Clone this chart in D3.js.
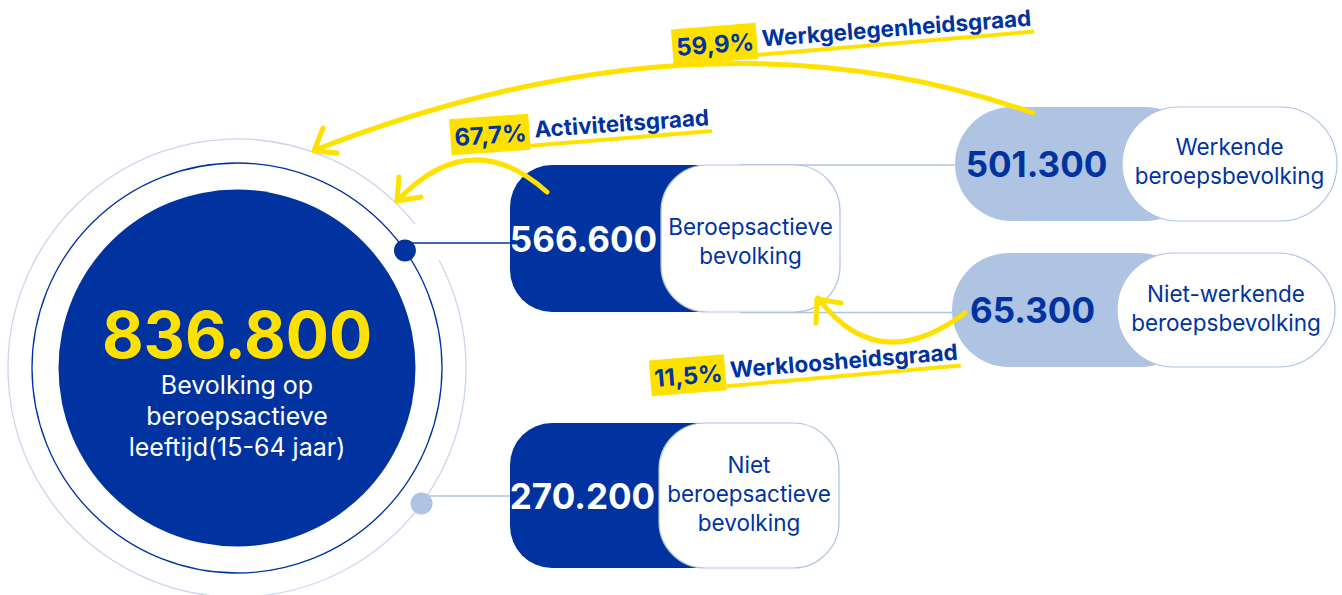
<!DOCTYPE html>
<html>
<head>
<meta charset="utf-8">
<script src="https://cdn.jsdelivr.net/npm/d3@7"></script>
<style>
  body { margin: 0; background: #fff; }
  svg { display: block; font-family: Inter, "Noto Sans", sans-serif; }
</style>
</head>
<body>
<div id="chart"></div>
<script>
// values
var totalValue = 836800;
var totalLabel = ["Bevolking op", "beroepsactieve", "leeftijd(15-64 jaar)"];

var groupLabels = [
    ["Beroepsactieve", "bevolking"],
    ["Niet", "beroepsactieve", "bevolking"],
    ["Werkende", "beroepsbevolking"],
    ["Niet-werkende", "beroepsbevolking"]
];
var groupValues = [566600, 270200, 501300, 65300];
var groupTones = ["dark", "dark", "light", "light"];

var rateNames = ["Werkgelegenheidsgraad", "Activiteitsgraad", "Werkloosheidsgraad"];
var rateValues = [59.9, 67.7, 11.5];

var W = 1342, H = 595;
var blue = "#0033a0", pale = "#afc3e2", ring = "#cbd6ec", yellow = "#ffe100";

var nl = d3.formatLocale({decimal: ",", thousands: ".", grouping: [3], currency: ["", ""]});
var fmtCount = nl.format(",d");
var fmtRate = function(v) { return nl.format(".1f")(v) + "%"; };

var fill = d3.scaleOrdinal().domain(["dark", "light"]).range([blue, pale]);
var ink = d3.scaleOrdinal().domain(["dark", "light"]).range(["#fff", blue]);

var svg = d3.select("#chart").append("svg")
    .attr("width", W)
    .attr("height", H);

// big circle
var C = {x: 237, y: 368, r: 178.5, inner: 205, outer: 229};
var rad = Math.PI / 180;

var outerArc = d3.path();
outerArc.arc(C.x, C.y, C.outer, -28 * rad, (360 - 39) * rad);
svg.append("path").attr("d", outerArc.toString())
    .attr("fill", "none").attr("stroke", ring).attr("stroke-width", 1.3);

svg.append("circle").attr("cx", C.x).attr("cy", C.y).attr("r", C.inner)
    .attr("fill", "none").attr("stroke", blue).attr("stroke-width", 1.3);

svg.append("circle").attr("cx", C.x).attr("cy", C.y).attr("r", C.r).attr("fill", blue);

svg.append("text")
    .attr("x", C.x).attr("y", 358)
    .attr("text-anchor", "middle")
    .attr("fill", yellow).attr("font-weight", 700).attr("font-size", 64)
    .text(fmtCount(totalValue));

svg.append("g").selectAll("text").data(totalLabel).join("text")
    .attr("x", C.x).attr("y", function(d, i) { return 394 + i * 31; })
    .attr("text-anchor", "middle")
    .attr("fill", "#fff").attr("font-size", 25)
    .text(function(d) { return d; });

// pills
var pills = [
    {x: 510, y: 165, h: 147, split: 661, right: 840, rx: 42, wrx: 46, dy: 3},
    {x: 510, y: 423, h: 145, split: 659, right: 839, rx: 42, wrx: 46, dy: -1},
    {x: 955, y: 107, h: 114, split: 1122, right: 1337, rx: 57, wrx: 57, dy: -2},
    {x: 952, y: 253, h: 114, split: 1117, right: 1335, rx: 57, wrx: 57, dy: -1}
];

// connectors
var links = [
    {x1: 405, x2: 510, y: 243, c: blue},
    {x1: 421, x2: 510, y: 496, c: pale},
    {x1: 740, x2: 955, y: 165, c: pale},
    {x1: 740, x2: 952, y: 312.5, c: pale}
];
svg.append("g").selectAll("line").data(links).join("line")
    .attr("x1", function(d) { return d.x1; }).attr("x2", function(d) { return d.x2; })
    .attr("y1", function(d) { return d.y; }).attr("y2", function(d) { return d.y; })
    .attr("stroke", function(d) { return d.c; }).attr("stroke-width", 1.4);

svg.append("circle").attr("cx", C.x + C.inner * Math.cos(-35 * rad)).attr("cy", C.y + C.inner * Math.sin(-35 * rad))
    .attr("r", 11).attr("fill", blue);
svg.append("circle").attr("cx", C.x + C.outer * Math.cos(36.3 * rad)).attr("cy", C.y + C.outer * Math.sin(36.3 * rad))
    .attr("r", 11).attr("fill", pale);

var pill = svg.append("g").selectAll("g").data(groupValues).join("g");

pill.append("rect")
    .attr("x", function(d, i) { return pills[i].x; })
    .attr("y", function(d, i) { return pills[i].y; })
    .attr("width", function(d, i) { return pills[i].split + 80 - pills[i].x; })
    .attr("height", function(d, i) { return pills[i].h; })
    .attr("rx", function(d, i) { return pills[i].rx; })
    .attr("fill", function(d, i) { return fill(groupTones[i]); });

pill.append("rect")
    .attr("x", function(d, i) { return pills[i].split; })
    .attr("y", function(d, i) { return pills[i].y; })
    .attr("width", function(d, i) { return pills[i].right - pills[i].split; })
    .attr("height", function(d, i) { return pills[i].h; })
    .attr("rx", function(d, i) { return pills[i].wrx; })
    .attr("fill", "#fff").attr("stroke", pale).attr("stroke-width", 1.2);

pill.append("text")
    .attr("x", function(d, i) { return (pills[i].x + pills[i].split) / 2 - 2; })
    .attr("y", function(d, i) { return pills[i].y + pills[i].h / 2 + 13; })
    .attr("text-anchor", "middle")
    .attr("font-weight", 700).attr("font-size", 35)
    .attr("fill", function(d, i) { return ink(groupTones[i]); })
    .text(function(d) { return fmtCount(d); });

pill.each(function(d, i) {
    var p = pills[i], lines = groupLabels[i];
    var cy = p.y + p.h / 2 + p.dy;
    d3.select(this).selectAll("text.lbl").data(lines).join("text")
        .attr("class", "lbl")
        .attr("x", (p.split + p.right) / 2)
        .attr("y", function(t, k) { return cy + 7.5 - (lines.length - 1) * 29 / 2 + k * 29; })
        .attr("text-anchor", "middle")
        .attr("font-size", 22.5).attr("fill", blue)
        .text(function(t) { return t; });
});

// yellow arrows
var arrows = [
    {from: [1033, 113], ctrl: [706, -2], to: [315, 150], arms: [[323, 128], [337, 153]]},
    {from: [547, 192], ctrl: [471, 124], to: [398, 200], arms: [[399, 177], [421, 197]]},
    {from: [965, 313], ctrl: [878, 378], to: [818, 298], arms: [[841, 303], [816, 323]]}
];
var arrowG = svg.append("g").attr("fill", "none").attr("stroke", yellow)
    .attr("stroke-width", 5).attr("stroke-linecap", "round").attr("stroke-linejoin", "round");
arrows.forEach(function(a) {
    var p = d3.path();
    p.moveTo(a.from[0], a.from[1]);
    p.quadraticCurveTo(a.ctrl[0], a.ctrl[1], a.to[0], a.to[1]);
    arrowG.append("path").attr("d", p.toString());
    var h = d3.path();
    h.moveTo(a.arms[0][0], a.arms[0][1]);
    h.lineTo(a.to[0] - 1, a.to[1] + 1);
    h.lineTo(a.arms[1][0], a.arms[1][1]);
    arrowG.append("path").attr("d", h.toString());
});

// rate labels
var rateSpots = [
    {x: 677, y: 56, a: -4.4},
    {x: 455, y: 146, a: -4},
    {x: 655, y: 387, a: -4.6}
];
rateValues.forEach(function(v, i) {
    var s = rateSpots[i];
    var g = svg.append("g").attr("transform", "translate(" + s.x + "," + s.y + ") rotate(" + s.a + ")");
    var box = g.append("rect").attr("fill", yellow);
    var pct = g.append("text")
        .attr("font-weight", 700).attr("font-size", 24).attr("fill", blue)
        .text(fmtRate(v));
    var pw = pct.node().getComputedTextLength();
    box.attr("x", -4).attr("y", -27).attr("width", pw + 7).attr("height", 36);
    var lbl = g.append("text")
        .attr("x", pw + 8).attr("y", -3)
        .attr("font-weight", 700).attr("font-size", 22.5).attr("fill", blue)
        .text(rateNames[i]);
    var lw = lbl.node().getComputedTextLength();
    g.insert("line", "text")
        .attr("x1", pw + 3).attr("y1", 5)
        .attr("x2", pw + 10 + lw).attr("y2", 3)
        .attr("stroke", yellow).attr("stroke-width", 4);
});
</script>
</body>
</html>
